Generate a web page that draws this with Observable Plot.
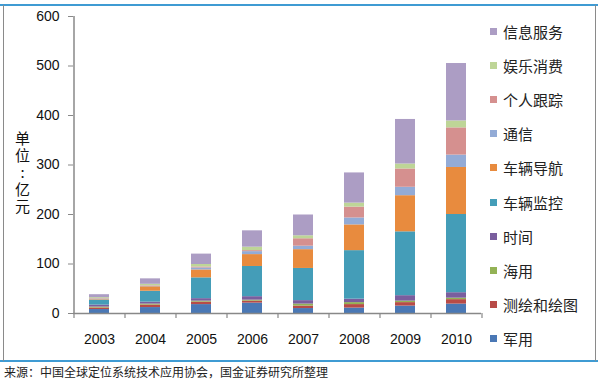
<!DOCTYPE html>
<html><head><meta charset="utf-8">
<script src="https://cdn.jsdelivr.net/npm/d3@7"></script>
<script src="https://cdn.jsdelivr.net/npm/@observablehq/plot@0.6"></script>
<style>
body{margin:0;background:#fff;}
#wrap{position:relative;width:600px;height:383px;overflow:hidden;font-family:"Noto Sans CJK SC",sans-serif;background:#fff;}
#chart{position:absolute;left:0;top:0;}
.hline{position:absolute;left:0;width:598px;height:2px;background:#3f9bd3;}
.vline{position:absolute;top:5px;height:356px;width:1px;background:#8a8a8a;}
#ylabel{position:absolute;left:12px;top:131px;width:20px;font-size:15px;line-height:20px;color:#111;writing-mode:vertical-rl;text-orientation:upright;letter-spacing:2px;}
#legend{position:absolute;left:490px;top:14px;}
.item{height:34.2px;display:flex;align-items:center;font-size:15px;color:#222;}
.sw{width:7px;height:7px;margin-right:6px;}
#source{position:absolute;left:4px;top:364px;font-size:12px;line-height:16px;color:#222;}
</style></head><body>
<div id="wrap">
 <div id="chart"></div>
 <div class="hline" style="top:4px"></div>
 <div class="hline" style="top:360px"></div>
 <div class="vline" style="left:3px"></div>
 <div class="vline" style="left:595px"></div>
 <div id="ylabel">单位:亿元</div>
 <div id="legend"></div>
 <div id="source">来源：中国全球定位系统技术应用协会，国金证券研究所整理</div>
</div>
<script>
const years = ["2003","2004","2005","2006","2007","2008","2009","2010"];
const seriesNames = ["军用","测绘和绘图","海用","时间","车辆监控","车辆导航","通信","个人跟踪","娱乐消费","信息服务"];
const military           = [8, 12, 18, 21, 10, 11, 15, 19];
const surveying          = [3, 5, 5, 4, 5, 7, 7, 9];
const marine             = [2, 2, 2, 2, 4, 4, 3, 3];
const timing             = [4, 4, 5, 7, 7, 7, 11, 11];
const vehicleMonitoring  = [10, 22, 42, 61, 65, 98, 129, 158];
const vehicleNavigation  = [1, 9, 16, 24, 38, 52, 73, 95];
const communication      = [1, 1, 4, 6, 7, 14, 17, 25];
const personalTracking   = [1, 1, 2, 2, 15, 22, 37, 55];
const entertainment      = [2, 3, 5, 7, 6, 8, 10, 14];
const infoServices       = [6, 11, 21, 33, 42, 61, 90, 116];
const yTicks = [0, 100, 200, 300, 400, 500, 600];
const colors = ["#4a78b5","#b84b47","#93b255","#7a5e9e","#449db8","#e88b3e","#93abd6","#d5908f","#bed597","#ac9dc4"];

const seriesValues = [military, surveying, marine, timing, vehicleMonitoring, vehicleNavigation, communication, personalTracking, entertainment, infoServices];
const data = [];
seriesNames.forEach((s, si) => years.forEach((y, yi) => data.push({year: y, series: s, value: seriesValues[si][yi]})));

const mL = 73, mR = 119, W = 600;
const step = (W - mL - mR) / years.length;
const axisColor = "#888";

const chart = Plot.plot({
  width: 600, height: 360,
  marginLeft: mL, marginRight: mR, marginTop: 16, marginBottom: 47,
  style: {fontFamily: "'Liberation Sans', Arial, sans-serif", fontSize: "14px", color: "#111", background: "transparent"},
  x: {domain: years, paddingInner: 0.608, paddingOuter: 0.304, label: null},
  y: {domain: [0, 600], label: null},
  color: {domain: seriesNames, range: colors},
  marks: [
    Plot.barY(data, {x: "year", y: "value", fill: "series"}),
    Plot.ruleY([0], {stroke: axisColor, strokeWidth: 1.5}),
    Plot.ruleX([years[0]], {x: d => d, y1: 0, y2: 600, dx: -step / 2, stroke: axisColor, strokeWidth: 1.5}),
    Plot.ruleX(years, {x: d => d, y1: 0, y2: 0, insetBottom: -5, dx: -step / 2, stroke: axisColor, strokeWidth: 1.2}),
    Plot.ruleX([years[years.length - 1]], {x: d => d, y1: 0, y2: 0, insetBottom: -5, dx: step / 2, stroke: axisColor, strokeWidth: 1.2}),
    Plot.axisY({ticks: yTicks, tickSize: 5, tickPadding: 9, stroke: axisColor, fill: "#111", label: null, fontSize: 14}),
    Plot.axisX({tickSize: 0, tickPadding: 21, fill: "#111", label: null, fontSize: 14})
  ]
});
document.getElementById("chart").appendChild(chart);

const legend = document.getElementById("legend");
seriesNames.slice().reverse().forEach(s => {
  const i = seriesNames.indexOf(s);
  const it = document.createElement("div");
  it.className = "item";
  it.innerHTML = `<span class="sw" style="background:${colors[i]}"></span><span>${s}</span>`;
  legend.appendChild(it);
});
</script>
</body></html>
